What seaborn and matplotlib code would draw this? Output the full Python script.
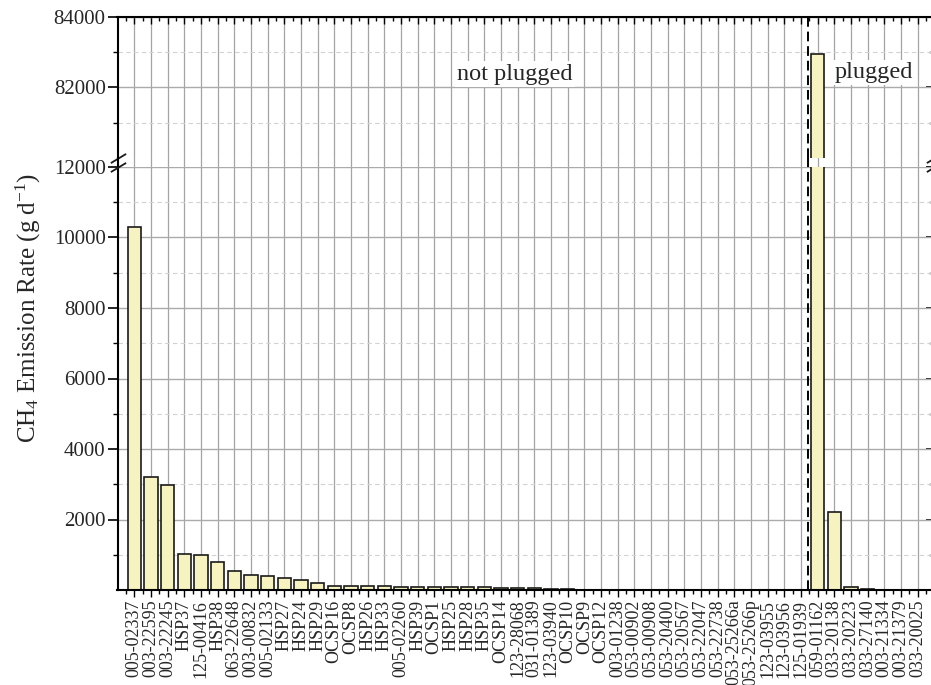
import numpy as np
import pandas as pd
import matplotlib
matplotlib.use("Agg")
import matplotlib.pyplot as plt
import seaborn as sns
from matplotlib.ticker import FixedLocator

# ---------------- data ----------------
wells = [
    "005-02337", "003-22595", "003-22245", "HSP37", "125-00416", "HSP38",
    "063-22648", "003-00832", "005-02133", "HSP27", "HSP24", "HSP29",
    "OCSP16", "OCSP8", "HSP26", "HSP33", "005-02260", "HSP39",
    "OCSP1", "HSP25", "HSP28", "HSP35", "OCSP14", "123-28068",
    "031-01389", "123-03940", "OCSP10", "OCSP9", "OCSP12", "003-01238",
    "053-00902", "053-00908", "053-20400", "053-20567", "053-22047", "053-22738",
    "053-25266a", "053-25266p", "123-03955", "123-03956", "125-01939", "059-01162",
    "033-20138", "033-20223", "033-27140", "003-21334", "003-21379", "033-20025",
]
rates = [
    10300, 3200, 2990, 1020, 985, 805,
    530, 415, 405, 330, 275, 205,
    120, 105, 105, 100, 85, 85,
    85, 85, 80, 75, 65, 55,
    50, 25, 20, 5, 3, 2,
    2, 2, 2, 2, 2, 2,
    2, 2, 2, 2, 2, 82950,
    2220, 95, 35, 5, 3, 2,
]
low_major = [2000, 4000, 6000, 8000, 10000, 12000]
low_minor = [1000, 3000, 5000, 7000, 9000, 11000]
up_major = [82000, 84000]
up_minor = [81000, 83000]
divider_pos = 40.4          # between "125-01939" and "059-01162"
region_labels = ["not plugged", "plugged"]

df = pd.DataFrame({"well": wells, "rate": rates})

# ---------------- style ----------------
sns.set_theme(style="white")
plt.rcParams["font.family"] = ["Liberation Serif", "DejaVu Serif"]
plt.rcParams["mathtext.fontset"] = "custom"
plt.rcParams["mathtext.rm"] = "Liberation Serif"
plt.rcParams["mathtext.it"] = "Liberation Serif:italic"

BAR = "#F6F3C1"
GRID_V = "#a4a4a4"
GRID_H = "#ababab"
GRID_MIN = "#d2d2d2"

fig = plt.figure(figsize=(9.31, 6.85), dpi=100)
L = 117.5 / 931
W = 49 * 16.67 / 931
ax_up = fig.add_axes([L, 1 - 158 / 685, W, 141 / 685])
ax_gap = fig.add_axes([L, 1 - 167 / 685, W, 9 / 685])
ax_low = fig.add_axes([L, 1 - 590 / 685, W, 423 / 685])

for ax in (ax_up, ax_low):
    sns.barplot(data=df, x="well", y="rate", color=BAR, saturation=1,
                edgecolor="#1a1a1a", linewidth=1.2, width=0.8,
                errorbar=None, ax=ax)
    ax.set_xlabel("")
    ax.set_ylabel("")

n = len(wells)
for ax in (ax_up, ax_gap, ax_low):
    ax.set_xlim(-1, n)
    ax.set_axisbelow(True)
    ax.xaxis.set_major_locator(FixedLocator(np.arange(n)))
    ax.xaxis.set_minor_locator(FixedLocator(np.arange(-0.5, n, 1.0)))
    ax.xaxis.grid(True, which="major", color=GRID_V, lw=0.9)
    ax.axvline(divider_pos, color="black", lw=1.4, ls=(0, (5, 2.5)), zorder=4)
    for s in ax.spines.values():
        s.set_linewidth(1.5)
        s.set_color("black")

# lower axes
ax_low.set_ylim(0, 12000)
ax_low.set_yticks(low_major)
ax_low.set_yticks(low_minor, minor=True)
ax_low.yaxis.grid(True, which="major", color=GRID_H, lw=1.0)
ax_low.yaxis.grid(True, which="minor", color=GRID_MIN, lw=0.8, ls=(0, (4, 3)))
ax_low.set_xticks(np.arange(n), labels=wells)
ax_low.tick_params(axis="x", which="major", bottom=True, top=False, direction="out",
                   length=5, width=1, rotation=90, labelsize=13, pad=2, color="black")
ax_low.tick_params(axis="x", which="minor", bottom=True, top=False, direction="out",
                   length=3, width=1, color="black")
ax_low.tick_params(axis="y", which="major", left=True, right=False, direction="out",
                   length=7, width=1.2, labelsize=15, pad=1.5, color="black")
ax_low.tick_params(axis="y", which="minor", left=True, right=False, direction="out",
                   length=3.5, width=1, color="black")
ax_low.spines["top"].set_visible(False)

# upper axes
ax_up.set_ylim(80000, 84000)
ax_up.set_yticks(up_major)
ax_up.set_yticks(up_minor, minor=True)
ax_up.yaxis.grid(True, which="major", color=GRID_H, lw=1.0)
ax_up.yaxis.grid(True, which="minor", color=GRID_MIN, lw=0.8, ls=(0, (4, 3)))
ax_up.tick_params(axis="x", which="major", bottom=False, top=True, direction="in",
                  length=5, width=1, labelbottom=False, labeltop=False, color="black")
ax_up.tick_params(axis="x", which="minor", bottom=False, top=True, direction="in",
                  length=3, width=1, color="black")
ax_up.tick_params(axis="y", which="major", left=True, right=False, direction="out",
                  length=7, width=1.2, labelsize=15, pad=1.5, color="black")
ax_up.tick_params(axis="y", which="minor", left=True, right=False, direction="out",
                  length=3.5, width=1, color="black")
ax_up.spines["bottom"].set_visible(False)

# right-side inward ticks
for ax, maj, mnr in ((ax_low, low_major, low_minor), (ax_up, up_major, up_minor)):
    sec = ax.secondary_yaxis("right")
    sec.set_yticks(maj)
    sec.set_yticks(mnr, minor=True)
    sec.tick_params(axis="y", which="major", direction="in", length=6, width=1.2,
                    labelright=False, color="black")
    sec.tick_params(axis="y", which="minor", direction="in", length=3.5, width=1,
                    color="black")
    sec.spines["right"].set_linewidth(1.5)

# gap axes
ax_gap.set_ylim(0, 1)
ax_gap.set_yticks([])
ax_gap.tick_params(axis="x", which="both", bottom=False, top=False,
                   labelbottom=False)
for side in ("top", "bottom", "right"):
    ax_gap.spines[side].set_visible(False)
ax_gap.patch.set_alpha(0)

# break marks
kw = dict(marker=[(-1, -0.6), (1, 0.6)], markersize=11, linestyle="none",
          color="k", mec="k", mew=1.3, clip_on=False, zorder=6)
ax_up.plot([0, 1], [0, 0], transform=ax_up.transAxes, **kw)
ax_low.plot([0, 1], [1, 1], transform=ax_low.transAxes, **kw)

# region labels
tb = dict(facecolor="white", edgecolor="none", pad=1.5)
ax_up.text(22.85, 82380, region_labels[0], ha="center", va="center",
           fontsize=17.5, bbox=tb, zorder=5)
ax_up.text(44.4, 82420, region_labels[1], ha="center", va="center",
           fontsize=17.5, bbox=tb, zorder=5)

fig.text(0.03, 1 - 308 / 685, "CH$_{\\mathrm{4}}$ Emission Rate (g d$^{\\mathrm{-1}}$)",
         rotation=90, ha="center", va="center", fontsize=18)

fig.savefig("out.png", dpi=100)
